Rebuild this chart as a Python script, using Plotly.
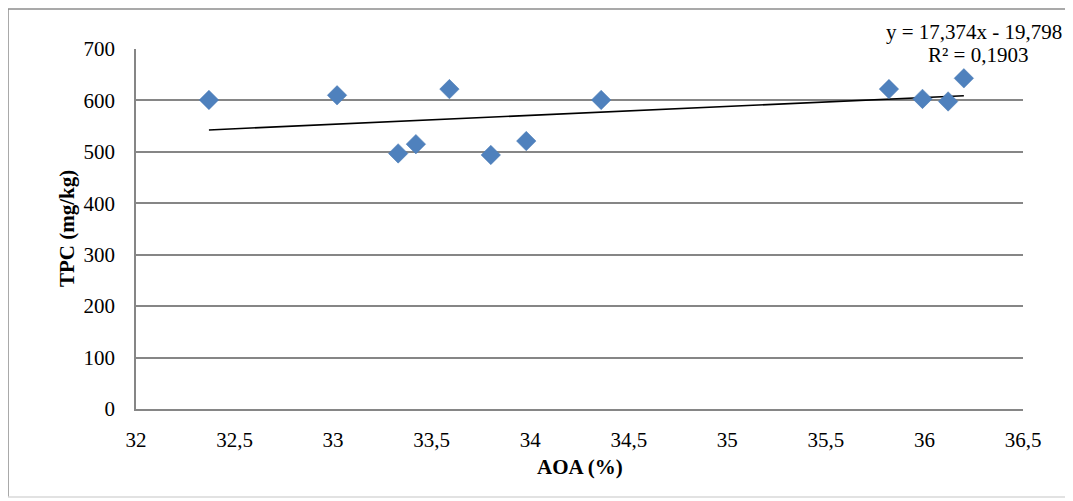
import plotly.graph_objects as go

# Data
aoa = [32.37, 33.02, 33.33, 33.42, 33.59, 33.80, 33.98, 34.36, 35.82, 35.99, 36.12, 36.20]
tpc = [601, 610, 497, 515, 622, 494, 521, 601, 622, 603, 598, 643]
slope = 17.374
intercept = -19.798
r2_text = "0,1903"
eq_text = "y = 17,374x - 19,798"

x_min, x_max = min(aoa), max(aoa)
trend_x = [x_min, x_max]
trend_y = [slope * v + intercept for v in trend_x]

FONT = "Liberation Serif"
FS = 21
GRID = "#868686"
BORDER = "#8C8C8C"
OFF = 8  # page body margin offset

# plot area in page pixels (from reference)
PL, PR, PT, PB = 136, 1023, 49, 409.5
W, H = 1073 - OFF, 501 - OFF
PW, PH = PR - PL, PB - PT


def px(xp):
    return (xp - PL) / PW


def py(yp):
    return (PB - yp) / PH


fig = go.Figure()
fig.add_trace(go.Scatter(
    x=trend_x, y=trend_y, mode="lines",
    line=dict(color="black", width=1.6), showlegend=False, hoverinfo="skip"))
fig.add_trace(go.Scatter(
    x=aoa, y=tpc, mode="markers",
    marker=dict(symbol="diamond", size=15, color="#4F81BD",
                line=dict(color="#4A7BB5", width=0.5)),
    showlegend=False))

bx0, bx1, by0, by1 = px(8), px(1100), py(497.5), py(9)

fig.update_layout(
    width=W, height=H,
    margin=dict(l=PL - OFF, r=W - (PR - OFF), t=PT - OFF, b=H - (PB - OFF),
                autoexpand=False),
    paper_bgcolor="white", plot_bgcolor="white",
    separators=", ",
    font=dict(family=FONT, size=FS, color="black"),
    xaxis=dict(range=[32, 36.5], dtick=0.5, tick0=32, showgrid=False,
               zeroline=False, showline=True, linecolor=GRID, linewidth=1.5,
               ticks="", ticklabelstandoff=11, automargin=False,
               tickfont=dict(family=FONT, size=FS, color="black")),
    yaxis=dict(range=[0, 700], dtick=100, showgrid=True, gridcolor=GRID,
               gridwidth=1.5, zeroline=False, showline=True, linecolor=GRID,
               linewidth=1.5, ticks="", ticklabelstandoff=15, automargin=False,
               tickfont=dict(family=FONT, size=FS, color="black")),
    shapes=[
        dict(type="line", xref="paper", yref="paper", x0=bx0, x1=bx0,
             y0=by0, y1=by1, line=dict(color=BORDER, width=1.5), layer="below"),
        dict(type="line", xref="paper", yref="paper", x0=bx0, x1=bx1,
             y0=by1, y1=by1, line=dict(color=BORDER, width=1.5), layer="below"),
        dict(type="line", xref="paper", yref="paper", x0=bx0, x1=bx1,
             y0=by0, y1=by0, line=dict(color="#D9D9D9", width=1.5), layer="below"),
    ],
    annotations=[
        dict(text="<b>AOA (%)</b>", xref="paper", yref="paper",
             x=0.5, y=py(468), showarrow=False,
             xanchor="center", yanchor="middle",
             font=dict(family=FONT, size=FS, color="black")),
        dict(text="<b>TPC (mg/kg)</b>", xref="paper", yref="paper",
             x=px(67), y=0.5, showarrow=False, textangle=-90,
             xanchor="center", yanchor="middle",
             font=dict(family=FONT, size=FS, color="black")),
        dict(text=eq_text, xref="paper", yref="paper",
             x=px(1064), y=py(32), showarrow=False,
             xanchor="right", yanchor="middle",
             font=dict(family=FONT, size=FS, color="black")),
        dict(text="R² = " + r2_text, xref="paper", yref="paper",
             x=px(978), y=py(55), showarrow=False,
             xanchor="center", yanchor="middle",
             font=dict(family=FONT, size=FS, color="black")),
    ],
)

fig.write_html("out.html")
